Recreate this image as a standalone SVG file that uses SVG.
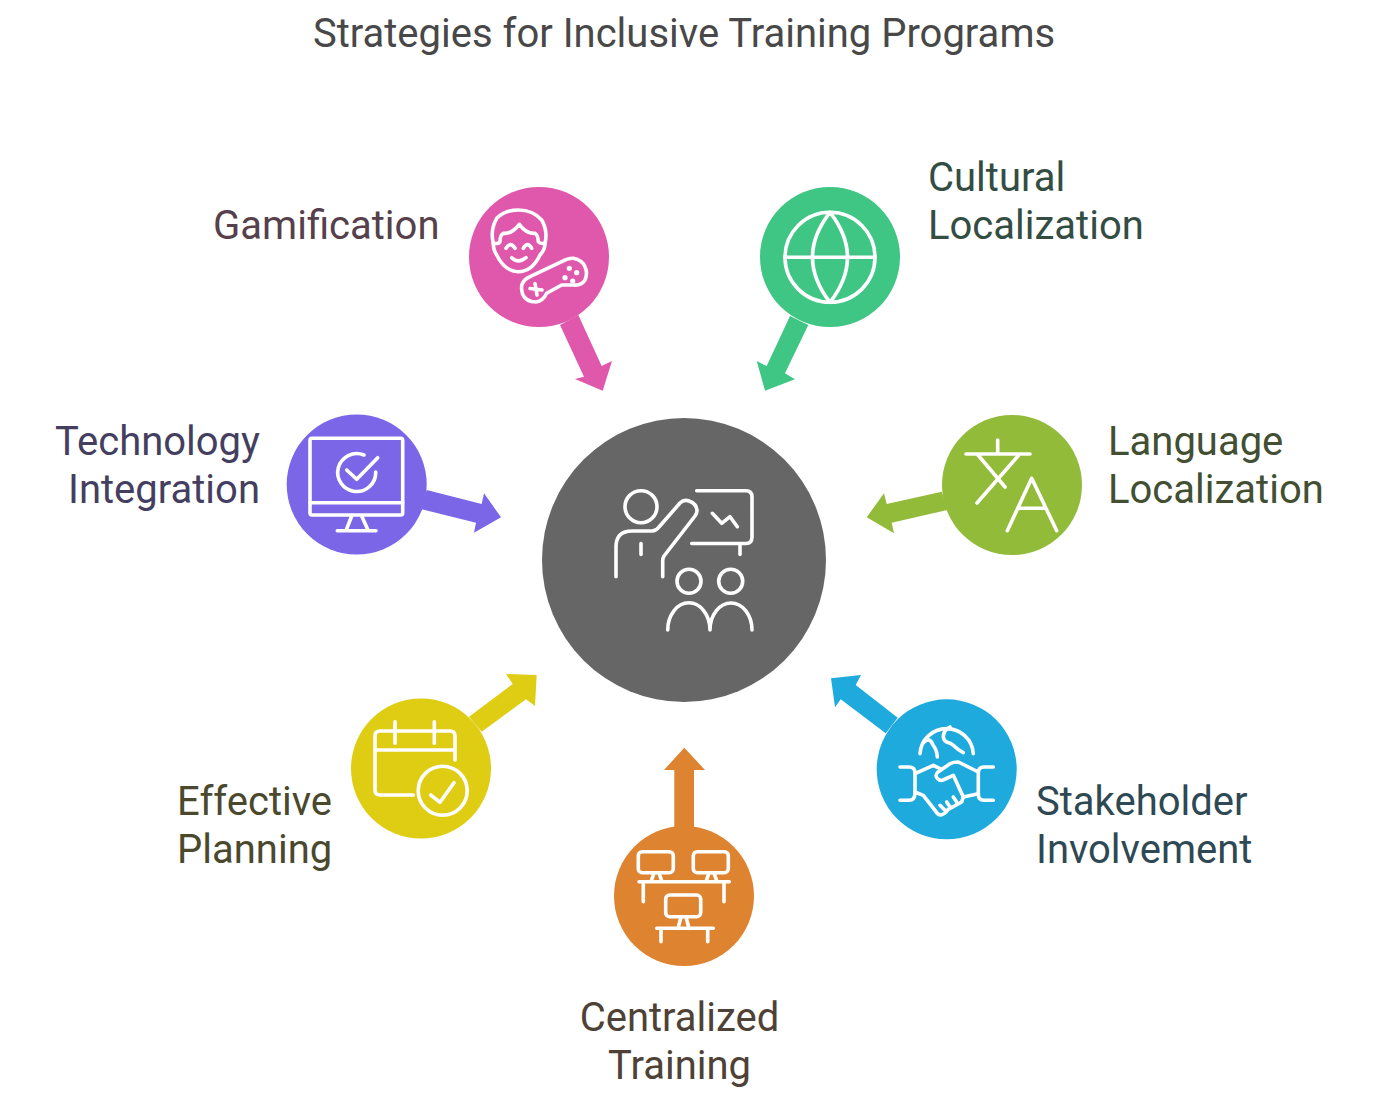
<svg xmlns="http://www.w3.org/2000/svg" width="1392" height="1102" viewBox="0 0 1392 1102">
<style>
text{font-family:Roboto,"Liberation Sans",sans-serif;font-size:40px}
.title{fill:#484848}
.i{fill:none;stroke:#fff;stroke-width:3.6;stroke-linecap:round;stroke-linejoin:round}
.r{text-anchor:end}
.m{text-anchor:middle}
</style>
<rect width="1392" height="1102" fill="#fff"/>
<text id="title" class="title m" x="684" y="46.500">Strategies for Inclusive Training Programs</text>
<g id="connectors">
<polygon fill="#df58ac" points="560,325 578.3,315 601.7,366 612,361 602.7,390.7 575,379 584,376.7"/>
<polygon fill="#3fc684" points="790,316 808.3,325 785,373.3 795,379.3 765,390.7 756.7,361 766.7,366"/>
<polygon fill="#93bb3a" points="941.7,491.7 947.3,510 891.7,522.7 894,533.3 866.7,517.3 884,493.3 886.7,504"/>
<polygon fill="#7b66e8" points="426.7,490 421.7,509.3 476,522.7 474,532.7 501,517.3 484,493.3 481.7,504"/>
<polygon fill="#dfcd14" points="469,716.7 481.7,731.7 526,699.3 535,706 536.7,675 506,674 512.7,684"/>
<polygon fill="#1eaadc" points="897.7,717.7 885.7,733.3 840.7,699.3 835,707.3 831,678.3 861,675 855.7,685"/>
<polygon fill="#de8431" points="674.3,830 694,830 694,770 705,770 684.3,747.7 664,770 674.3,770"/>
</g>
<g id="center">
<circle cx="684" cy="560" r="142" fill="#666"/>
<g class="i">
<circle cx="641" cy="506.7" r="16"/>
<path d="M616 576.7V547Q616 531 632 531H652Q656 531 659 527L680 503Q684 499 689 501Q697 504 697 511Q697 513 695 516L664 556Q662.7 558 662.7 561V576.7M641 543.5V554.5"/>
<path d="M696.7 490.7H746Q752 490.7 752 497V537Q752 543.5 746 543.5H691.7M740 543.5V554.5M712.3 513.3L721.7 523.3L730 516.7L737.3 526.7"/>
<circle cx="689" cy="581.3" r="12"/>
<circle cx="730.7" cy="581.3" r="12"/>
<path d="M667.7 630A21 27 0 0 1 710 630A21 27 0 0 1 752 630"/>
</g>
</g>
<g id="gamification">
<circle cx="539" cy="257" r="70" fill="#df58ac"/>
<g class="i">
<path d="M493.300 243.300Q490 230 496.700 218.300Q505 210 518.300 210Q533 210 541.700 220Q548 231 545 243.300Q545 250 540 255Q532 271.700 518.300 271.700Q505 271.700 496.700 255Q493.300 250 493.300 243.300Z"/>
<path d="M493.300 243.300Q499 244 500 241.700Q500 235 503.300 233.300Q512 234 519.300 224.300Q526 234 535 233.300Q538 235 538.300 241.700Q540 244 545 243.300"/>
<path d="M506 248.300Q510.500 241 515 248.300M523.300 248.300Q527.500 241 531.700 248.300M511.700 257.700Q518.300 264 526 257.700"/>
<path d="M521.700 285Q524 279 530 276.700L561.700 261.700Q568 258 573.300 258.300Q582 260 585 266.700Q588 273 585 280Q581 286 573.300 285H561.700L546.700 293.300Q543 301 536 302Q526 302 522.500 294Q521 289 521.700 285Z"/>
<path d="M530 288.500L542 290M535 283.500L537 295"/>
<g fill="#fff" stroke="none"><circle cx="569.300" cy="268.300" r="2.600"/><circle cx="576.700" cy="272.700" r="2.600"/><circle cx="565" cy="277.700" r="2.600"/><circle cx="572.700" cy="281" r="2.600"/></g>
</g>
</g>
<g id="cultural">
<circle cx="830" cy="257" r="70" fill="#3fc684"/>
<g class="i">
<circle cx="830" cy="257.300" r="45"/>
<path d="M785 257.300H875M830 212.300Q795 257 830 302.300Q865 257 830 212.300"/>
</g>
</g>
<g id="language">
<circle cx="1012" cy="485" r="70" fill="#93bb3a"/>
<g class="i">
<path d="M966 454H1030M997.700 440V454M978 455L1005 487M1018 456L977 503M1007.300 530.700L1031.700 478.300L1056.700 530.700M1020 508.300H1045"/>
</g>
</g>
<g id="technology">
<circle cx="356.700" cy="484.500" r="70" fill="#7b66e8"/>
<g class="i">
<rect x="310" y="438.300" width="92.700" height="76.700" rx="2"/>
<path d="M310 502.700H402.700M351.700 516L346 530.700M361.700 516L368.300 530.700M337.300 530.700H376"/>
<path d="M364 455A19 19 0 1 0 375.700 472M346.700 470L356.700 479.300L377.700 457.700"/>
</g>
</g>
<g id="planning">
<circle cx="421" cy="768.500" r="70" fill="#dfcd14"/>
<g class="i">
<path d="M413.300 795H380Q375 795 375 790V736Q375 731 380 731H450Q455 731 455 736V760M375 750H455M395 721.700V743.300M434.300 721.700V743.300"/>
<circle cx="442.700" cy="790.700" r="24.500"/>
<path d="M430.700 795L440 802.300L454 782.700"/>
</g>
</g>
<g id="stakeholder">
<circle cx="946.700" cy="769.300" r="70" fill="#1eaadc"/>
<g class="i">
<path d="M920 753.700A26.700 26.700 0 0 1 973.300 753.700"/>
<path d="M923.300 742.700Q930 736 933 745Q937 750 937.300 757M950 727Q943 731 943.300 737Q944 741 946.700 742Q951 743 953.300 745.300Q958 750 963.300 752.700"/>
<path d="M900 767H909Q915 767 915 773V793Q915 800.300 909 800.300H900M993.300 767H984Q978.300 767 978.300 773V794Q978.300 800.300 984 800.300H993.300"/>
<path d="M915 773.700L933.300 765.300L940 768.700M978.300 772L958.300 762Q953 762 950 763.700L938 772Q934 776 938 779Q940 781 943 780L953.300 775.300L963.300 797L978.300 793.700"/>
<path d="M915 792L923.300 795.300L935 810.300Q938 815.300 941 815Q945 814 948.300 809.300L961.700 802L963.300 797M940 805.300L945 810.300M946.700 802L950 807M953.300 797L956.700 802"/>
</g>
</g>
<g id="centralized">
<circle cx="684" cy="896" r="70" fill="#de8431"/>
<g class="i">
<rect x="638.300" y="851.700" width="35" height="21" rx="4"/>
<rect x="693.300" y="851.700" width="35" height="21" rx="4"/>
<rect x="665.700" y="895" width="35" height="21.700" rx="4"/>
<path d="M639 881.700H729.300M643.300 881.700V901.700M724 881.700V901.700M654 873L651 881.700M659 873L662 881.700M709 873L706 881.700M714 873L717 881.700"/>
<path d="M656.700 928.300H713.300M661 928.300V941.700M707.700 928.300V941.700M681 917L678 928.300M686 917L689 928.300"/>
</g>
</g>
<g id="labels">
<text class="r" x="439.500" y="238.500" fill="#55404c">Gamification</text>
<text x="928" y="190.500" fill="#344d43">Cultural</text>
<text x="928" y="238.500" fill="#344d43">Localization</text>
<text x="1108" y="454.500" fill="#424f33">Language</text>
<text x="1108" y="502.500" fill="#424f33">Localization</text>
<text class="r" x="260" y="454.500" fill="#443f60">Technology</text>
<text class="r" x="260" y="502.500" fill="#443f60">Integration</text>
<text x="177" y="814.500" fill="#4a492e">Effective</text>
<text x="177" y="862.500" fill="#4a492e">Planning</text>
<text x="1036" y="814.500" fill="#2f4954">Stakeholder</text>
<text x="1036" y="862.500" fill="#2f4954">Involvement</text>
<text class="m" x="679.500" y="1030.500" fill="#4e4135">Centralized</text>
<text class="m" x="679.500" y="1078.500" fill="#4e4135">Training</text>
</g>
</svg>
